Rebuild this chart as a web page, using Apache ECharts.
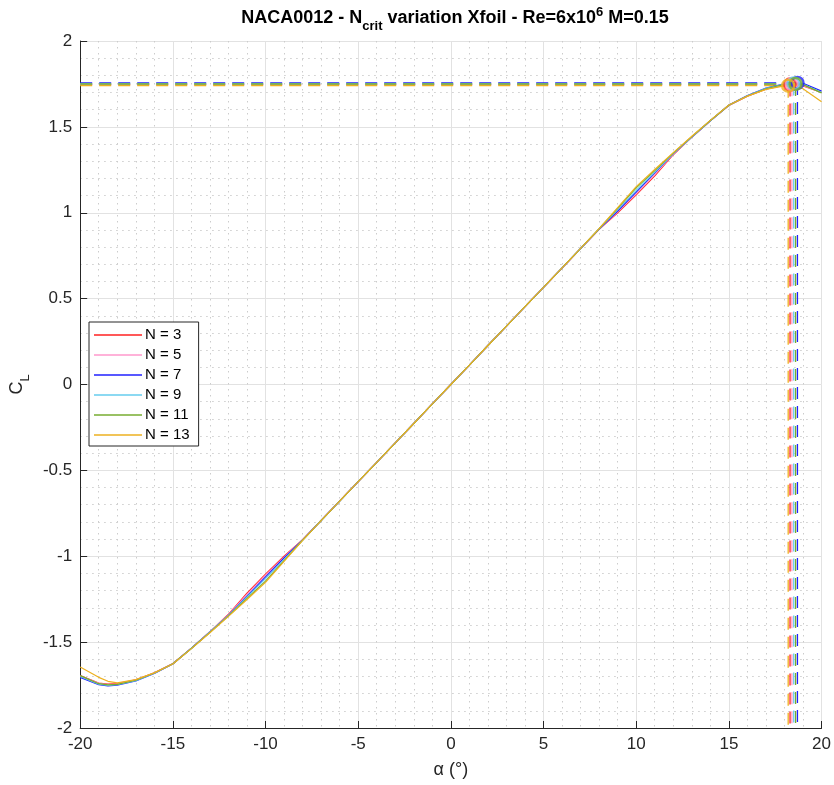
<!DOCTYPE html>
<html>
<head>
<meta charset="utf-8">
<script src="https://cdn.jsdelivr.net/npm/echarts@6/dist/echarts.min.js"></script>
<style>html,body{margin:0;padding:0;background:#fff}#c{width:834px;height:785px}</style>
</head>
<body>
<div id="c"></div>
<script>
// angle of attack (deg)
const alpha = [-20,-19,-18.5,-18,-17,-16,-15,-14,-13,-12,-11,-10,-9,-8,-7,-6,-5,-4,-3,-2,-1,0,1,2,3,4,5,6,7,8,9,10,11,12,13,14,15,16,17,18,18.5,19,20];

const seriesNames = ['N = 3','N = 5','N = 7','N = 9','N = 11','N = 13'];
const seriesColors = ['#ff2020','#ff99cc','#2020ff','#66ccee','#77ac30','#edb120'];

const clN3  = [-1.695,-1.738,-1.745,-1.742,-1.720,-1.678,-1.624,-1.535,-1.440,-1.338,-1.215,-1.105,-1.000,-0.903,-0.791,-0.678,-0.566,-0.453,-0.340,-0.227,-0.113,0,0.113,0.227,0.340,0.453,0.566,0.678,0.791,0.903,1.000,1.105,1.215,1.338,1.440,1.535,1.624,1.678,1.720,1.743,1.745,1.738,1.700];
const clN5  = [-1.697,-1.740,-1.747,-1.744,-1.721,-1.679,-1.625,-1.535,-1.440,-1.341,-1.222,-1.110,-1.005,-0.904,-0.791,-0.678,-0.566,-0.453,-0.340,-0.227,-0.113,0,0.113,0.227,0.340,0.453,0.566,0.678,0.791,0.904,1.005,1.110,1.222,1.341,1.440,1.535,1.625,1.679,1.721,1.745,1.747,1.741,1.701];
const clN7  = [-1.705,-1.748,-1.755,-1.751,-1.726,-1.683,-1.627,-1.536,-1.441,-1.344,-1.232,-1.120,-1.010,-0.905,-0.792,-0.679,-0.566,-0.453,-0.340,-0.227,-0.113,0,0.113,0.227,0.340,0.453,0.566,0.679,0.792,0.905,1.010,1.120,1.232,1.344,1.441,1.536,1.627,1.683,1.726,1.751,1.755,1.754,1.708];
const clN9  = [-1.700,-1.745,-1.752,-1.748,-1.724,-1.681,-1.626,-1.536,-1.441,-1.345,-1.237,-1.130,-1.018,-0.906,-0.792,-0.679,-0.566,-0.453,-0.340,-0.227,-0.113,0,0.113,0.227,0.340,0.453,0.566,0.679,0.792,0.906,1.018,1.130,1.237,1.345,1.441,1.536,1.626,1.681,1.724,1.749,1.752,1.748,1.702];
const clN11 = [-1.695,-1.742,-1.749,-1.746,-1.722,-1.680,-1.626,-1.537,-1.443,-1.347,-1.245,-1.145,-1.025,-0.907,-0.793,-0.679,-0.566,-0.453,-0.340,-0.227,-0.113,0,0.113,0.227,0.340,0.453,0.566,0.679,0.793,0.907,1.025,1.145,1.245,1.347,1.443,1.537,1.626,1.680,1.722,1.747,1.750,1.746,1.698];
const clN13 = [-1.645,-1.705,-1.728,-1.737,-1.718,-1.679,-1.627,-1.538,-1.445,-1.350,-1.252,-1.152,-1.030,-0.908,-0.793,-0.679,-0.566,-0.453,-0.340,-0.227,-0.113,0,0.113,0.227,0.340,0.453,0.566,0.679,0.793,0.908,1.030,1.152,1.252,1.350,1.445,1.538,1.627,1.679,1.718,1.739,1.736,1.722,1.646];
const clSeries = [clN3, clN5, clN7, clN9, clN11, clN13];

// stall points (alpha_max, CL_max) per N
const alphaMax = [18.3, 18.4, 18.7, 18.5, 18.6, 18.2];
const clMax    = [1.746, 1.748, 1.756, 1.752, 1.750, 1.740];

// tick settings
const xTicks = {min: -20, max: 20, step: 5};
const yTicks = {min: -2, max: 2, step: 0.5};

const FONT = '"Liberation Sans", Arial, Helvetica, sans-serif';
const AX = '#262626';

const series = [];
seriesNames.forEach((name, i) => {
  series.push({
    name: name, type: 'line', data: alpha.map((a, k) => [a, clSeries[i][k]]),
    symbol: 'none', smooth: false,
    lineStyle: {color: seriesColors[i], width: 1.2}, itemStyle: {color: seriesColors[i]},
    z: 3, animation: false
  });
});
seriesNames.forEach((name, i) => {
  series.push({
    type: 'line', data: [[xTicks.min, clMax[i]], [alphaMax[i], clMax[i]]],
    symbol: 'none', lineStyle: {color: seriesColors[i], width: 1.4, type: [12, 7]}, z: 2, animation: false, silent: true
  });
  series.push({
    type: 'line', data: [[alphaMax[i], clMax[i]], [alphaMax[i], yTicks.min]],
    symbol: 'none', lineStyle: {color: seriesColors[i], width: 1.3, type: [12, 7]}, z: 2, animation: false, silent: true
  });
  series.push({
    type: 'scatter', data: [[alphaMax[i], clMax[i]]],
    symbol: 'circle', symbolSize: 12,
    itemStyle: {color: 'rgba(0,0,0,0)', borderColor: seriesColors[i], borderWidth: 2.5},
    z: 4, animation: false, silent: true
  });
});

const chart = echarts.init(document.getElementById('c'), null, {renderer: 'canvas'});
chart.setOption({
  backgroundColor: '#ffffff',
  animation: false,
  textStyle: {fontFamily: FONT},
  title: {
    text: '{b|NACA0012 - N}{s|crit}{b| variation Xfoil - Re=6x10}{p|6}{b| M=0.15}',
    left: 450, textAlign: 'center', top: -2,
    textStyle: {
      rich: {
        b: {fontSize: 18, fontWeight: 'bold', color: '#000', fontFamily: FONT, verticalAlign: 'middle', lineHeight: 20},
        s: {fontSize: 13, fontWeight: 'bold', color: '#000', fontFamily: FONT, verticalAlign: 'bottom', lineHeight: 30},
        p: {fontSize: 13, fontWeight: 'bold', color: '#000', fontFamily: FONT, verticalAlign: 'top', lineHeight: 14, padding: [3, 0, 0, 0]}
      }
    }
  },
  legend: {
    orient: 'vertical', left: 89, top: 322,
    data: seriesNames,
    icon: 'rect', itemWidth: 48, itemHeight: 1.5, itemGap: 4,
    padding: [5, 9, 3, 5],
    backgroundColor: '#ffffff', borderColor: AX, borderWidth: 1, borderRadius: 0,
    textStyle: {fontSize: 15, color: '#000', fontFamily: FONT, lineHeight: 16, padding: [0, 0, 0, -2]}
  },
  grid: {left: 78, right: 11, top: 41, bottom: 57, containLabel: false},
  xAxis: {
    type: 'value', min: xTicks.min, max: xTicks.max, interval: xTicks.step,
    name: 'α (°)', nameLocation: 'middle', nameGap: 33,
    nameTextStyle: {fontSize: 18, color: AX, fontFamily: FONT},
    axisLine: {show: true, onZero: false, lineStyle: {color: AX, width: 1}},
    axisTick: {show: true, inside: true, length: 7, lineStyle: {color: AX}},
    axisLabel: {fontSize: 17, color: AX, margin: 8, fontFamily: FONT},
    splitLine: {show: true, lineStyle: {color: '#e2e2e2', width: 1}},
    minorTick: {show: false, splitNumber: 5},
    minorSplitLine: {show: true, lineStyle: {color: '#cccccc', width: 1, type: [1.5, 4.5]}}
  },
  yAxis: {
    type: 'value', min: yTicks.min, max: yTicks.max, interval: yTicks.step,
    name: '{a|C}{s|L}', nameLocation: 'middle', nameGap: 46, nameRotate: 90,
    nameTextStyle: {
      rich: {
        a: {fontSize: 18, color: AX, fontFamily: FONT, verticalAlign: 'middle', lineHeight: 20},
        s: {fontSize: 13, color: AX, fontFamily: FONT, verticalAlign: 'bottom', lineHeight: 30}
      }
    },
    axisLine: {show: true, onZero: false, lineStyle: {color: AX, width: 1}},
    axisTick: {show: true, inside: true, length: 7, lineStyle: {color: AX}},
    axisLabel: {fontSize: 17, color: AX, margin: 8, fontFamily: FONT},
    splitLine: {show: true, lineStyle: {color: '#e2e2e2', width: 1}},
    minorTick: {show: false, splitNumber: 5},
    minorSplitLine: {show: true, lineStyle: {color: '#cccccc', width: 1, type: [1.5, 4.5]}}
  },
  series: series
});
</script>
</body>
</html>
